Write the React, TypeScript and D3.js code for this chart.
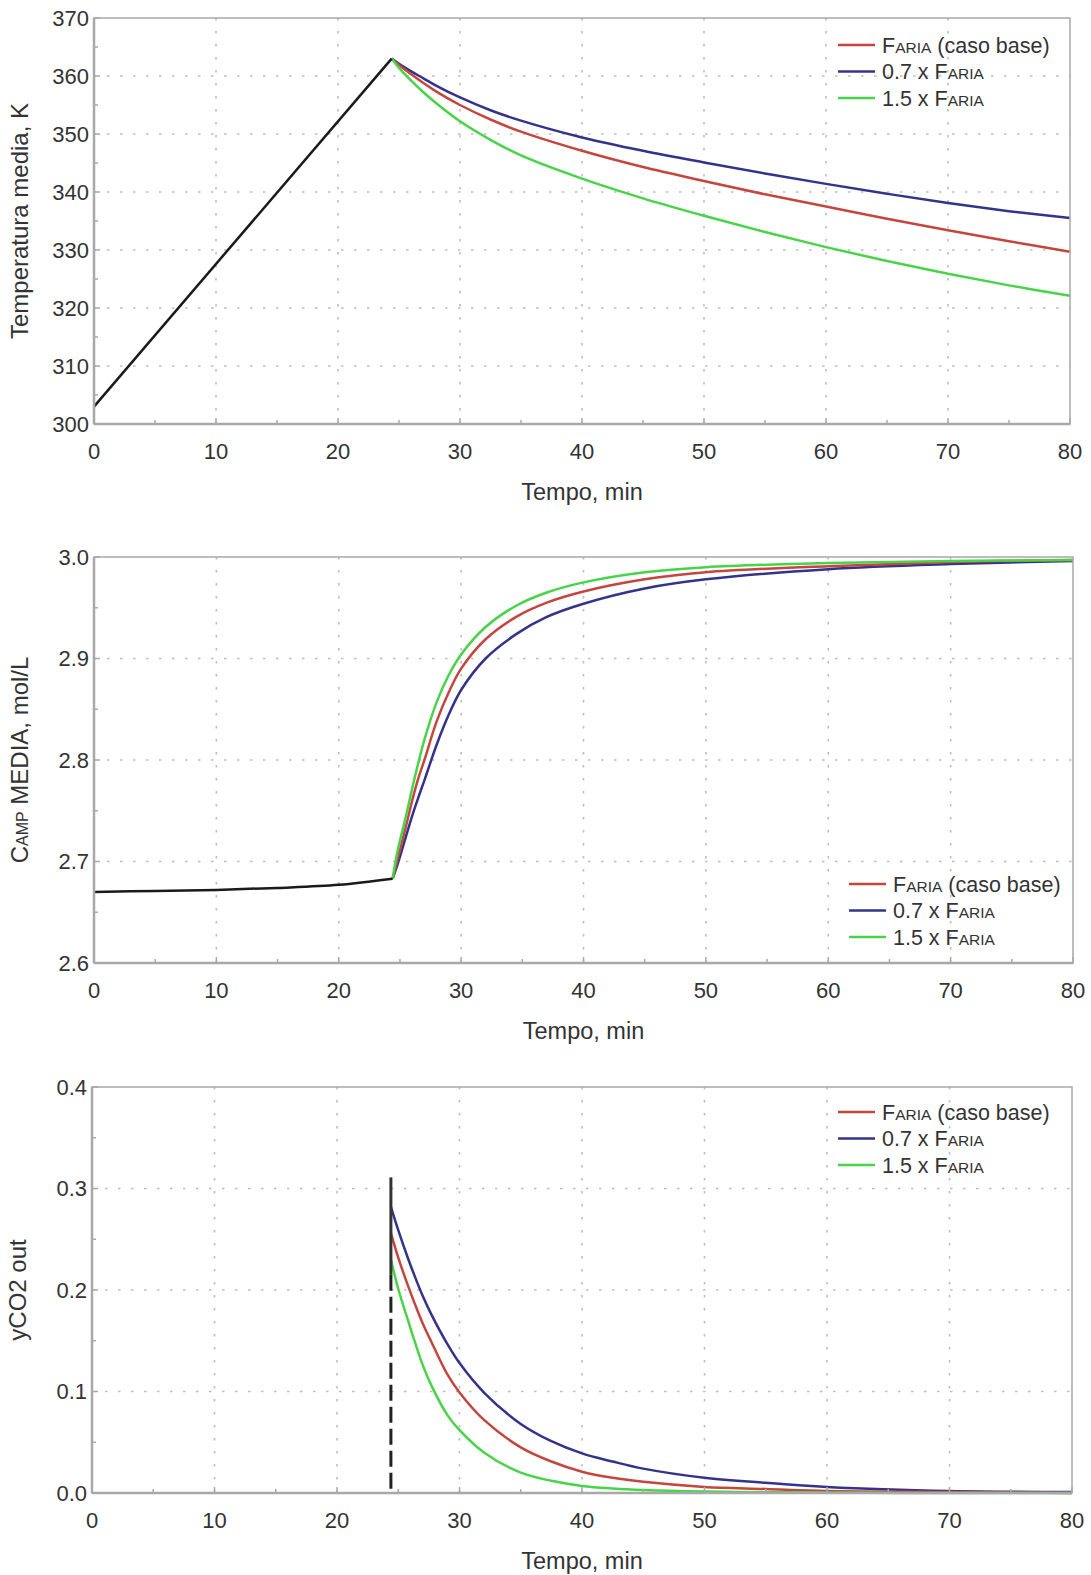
import React from "react";
import * as d3 from "d3";

// ---------- Panel 1: Temperatura media ----------
const heatX = [0, 24.4];
const heatT = [303, 363];
const coolX = [24.4, 25, 26, 27, 28, 30, 32.5, 35, 40, 45, 50, 55, 60, 65, 70, 75, 80];
const tempBase = [363, 361.9, 360.3, 358.8, 357.4, 355.0, 352.5, 350.4, 347.1, 344.3, 341.9, 339.6, 337.5, 335.4, 333.4, 331.5, 329.7];
const temp07 = [363, 362.1, 360.8, 359.6, 358.4, 356.3, 354.1, 352.3, 349.4, 347.1, 345.1, 343.2, 341.4, 339.7, 338.1, 336.7, 335.5];
const temp15 = [363, 361.4, 359.2, 357.2, 355.4, 352.2, 349.0, 346.3, 342.3, 338.9, 335.9, 333.1, 330.5, 328.1, 325.9, 323.9, 322.1];

// ---------- Panel 2: C_AMP media ----------
const preX = [0, 5, 10, 15, 20, 24.4];
const preC = [2.670, 2.671, 2.672, 2.674, 2.677, 2.683];
const riseX = [24.4, 24.8, 25.5, 26, 26.5, 27, 28, 29, 30, 32, 34.5, 37, 40, 45, 50, 60, 70, 80];
const campBase = [2.683, 2.702, 2.735, 2.76, 2.782, 2.80, 2.838, 2.867, 2.89, 2.919, 2.941, 2.955, 2.966, 2.978, 2.985, 2.991, 2.995, 2.997];
const camp07 = [2.683, 2.697, 2.725, 2.745, 2.763, 2.78, 2.815, 2.845, 2.869, 2.90, 2.924, 2.941, 2.954, 2.969, 2.978, 2.988, 2.993, 2.996];
const camp15 = [2.683, 2.71, 2.745, 2.772, 2.797, 2.82, 2.857, 2.884, 2.904, 2.931, 2.952, 2.965, 2.975, 2.985, 2.990, 2.994, 2.996, 2.997];

// ---------- Panel 3: yCO2 out ----------
const decayX = [24.4, 25, 25.8, 26.3, 27, 27.7, 29, 30, 32, 35, 37.5, 40, 42.5, 45, 50, 55, 60, 70, 80];
const yco2Base = [0.256, 0.232, 0.204, 0.188, 0.167, 0.149, 0.117, 0.099, 0.072, 0.045, 0.031, 0.021, 0.015, 0.011, 0.006, 0.004, 0.002, 0.001, 0];
const yco207 = [0.282, 0.259, 0.231, 0.215, 0.194, 0.176, 0.147, 0.128, 0.099, 0.068, 0.051, 0.039, 0.031, 0.024, 0.015, 0.010, 0.006, 0.002, 0.001];
const yco215 = [0.23, 0.201, 0.17, 0.151, 0.126, 0.106, 0.077, 0.062, 0.04, 0.02, 0.012, 0.007, 0.0045, 0.003, 0.0015, 0.0008, 0.0004, 0, 0];
const switchX = [24.4, 24.4];
const switchSolid = [0.311, 0.215];
const switchDashed = [0.215, 0];

// ---------- ticks ----------
const xTicks = [0, 10, 20, 30, 40, 50, 60, 70, 80];
const tempTicks = [300, 310, 320, 330, 340, 350, 360, 370];
const campTicks = [2.6, 2.7, 2.8, 2.9, 3.0];
const yco2Ticks = [0, 0.1, 0.2, 0.3, 0.4];

const RED = "#c4463f";
const BLUE = "#34338c";
const GREEN = "#48d448";
const AXIS = "#a8a8a8";
const GRID = "#bdbdbd";
const TEXT = "#333333";
const FONT = "'Liberation Sans', Arial, sans-serif";

type Series = { x: number[]; y: number[]; color: string; dash?: string; width?: number };

function Legend({ x, y }: { x: number; y: number }) {
  const rows = [
    { color: RED, pre: "", post: " (caso base)" },
    { color: BLUE, pre: "0.7 x ", post: "" },
    { color: GREEN, pre: "1.5 x ", post: "" },
  ];
  return (
    <g>
      {rows.map((r, i) => (
        <g key={i} transform={`translate(${x},${y + i * 26.5})`}>
          <line x1={0} x2={37} y1={0} y2={0} stroke={r.color} strokeWidth={2.5} />
          <text x={44} y={0} dy="0.36em" fontSize={21.5} fill={TEXT} fontFamily={FONT}>
            {r.pre}
            <tspan>F</tspan>
            <tspan fontSize={15.5}>ARIA</tspan>
            {r.post}
          </text>
        </g>
      ))}
    </g>
  );
}

function Panel({
  left, right, top, bottom, yDomain, yTicks, yFmt, series, yLabel, legendPos,
}: {
  left: number; right: number; top: number; bottom: number;
  yDomain: [number, number]; yTicks: number[]; yFmt: (v: number) => string;
  series: Series[]; yLabel: React.ReactNode; legendPos: [number, number];
}) {
  const x = d3.scaleLinear().domain([0, 80]).range([left, right]);
  const y = d3.scaleLinear().domain(yDomain).range([bottom, top]);
  const step = yTicks[1] - yTicks[0];
  const minorY = yTicks.slice(0, -1).map((t) => t + step / 2);
  const minorX = xTicks.slice(0, -1).map((t) => t + 5);
  const line = d3
    .line<[number, number]>()
    .x((d) => x(d[0]))
    .y((d) => y(d[1]))
    .curve(d3.curveCatmullRom.alpha(0.5));
  const straight = d3
    .line<[number, number]>()
    .x((d) => x(d[0]))
    .y((d) => y(d[1]));
  return (
    <g>
      {/* grid */}
      {xTicks.slice(1, -1).map((t) => (
        <line key={"gx" + t} x1={x(t)} x2={x(t)} y1={top} y2={bottom} stroke={GRID} strokeWidth={1.6} strokeDasharray="2.5 10.5" />
      ))}
      {yTicks.slice(1, -1).map((t) => (
        <line key={"gy" + t} x1={left} x2={right} y1={y(t)} y2={y(t)} stroke={GRID} strokeWidth={1.6} strokeDasharray="2.5 10.5" />
      ))}
      {/* series */}
      {series.map((s, i) => {
        const pts = s.x.map((v, j) => [v, s.y[j]] as [number, number]);
        const gen = s.x[0] === s.x[s.x.length - 1] || s.x.length < 3 ? straight : line;
        return (
          <path key={i} d={gen(pts) || ""} fill="none" stroke={s.color} strokeWidth={s.width ?? 2.5} strokeDasharray={s.dash} />
        );
      })}
      {/* frame */}
      <rect x={left} y={top} width={right - left} height={bottom - top} fill="none" stroke={AXIS} strokeWidth={1.5} />
      <line x1={left} x2={right} y1={bottom} y2={bottom} stroke={AXIS} strokeWidth={2.5} />
      <line x1={left} x2={left} y1={top} y2={bottom} stroke={AXIS} strokeWidth={2.5} />
      {/* ticks */}
      {xTicks.map((t) => (
        <line key={"tx" + t} x1={x(t)} x2={x(t)} y1={bottom} y2={bottom - 6} stroke={AXIS} strokeWidth={1.5} />
      ))}
      {minorX.map((t) => (
        <line key={"mx" + t} x1={x(t)} x2={x(t)} y1={bottom} y2={bottom - 4} stroke={AXIS} strokeWidth={1.5} />
      ))}
      {yTicks.map((t) => (
        <line key={"ty" + t} x1={left} x2={left + 6} y1={y(t)} y2={y(t)} stroke={AXIS} strokeWidth={1.5} />
      ))}
      {minorY.map((t) => (
        <line key={"my" + t} x1={left} x2={left + 4} y1={y(t)} y2={y(t)} stroke={AXIS} strokeWidth={1.5} />
      ))}
      {/* tick labels */}
      {xTicks.map((t) => (
        <text key={"lx" + t} x={x(t)} y={bottom + 35} textAnchor="middle" fontSize={22} fill={TEXT} fontFamily={FONT}>
          {t}
        </text>
      ))}
      {yTicks.map((t) => (
        <text key={"ly" + t} x={left - 5} y={y(t)} dy="0.36em" textAnchor="end" fontSize={22} fill={TEXT} fontFamily={FONT}>
          {yFmt(t)}
        </text>
      ))}
      <text x={(left + right) / 2} y={bottom + 76} textAnchor="middle" fontSize={23.5} fill={TEXT} fontFamily={FONT}>
        Tempo, min
      </text>
      <text
        transform={`translate(${left - 66},${(top + bottom) / 2}) rotate(-90)`}
        textAnchor="middle"
        fontSize={24}
        fill={TEXT}
        fontFamily={FONT}
      >
        {yLabel}
      </text>
      <Legend x={legendPos[0]} y={legendPos[1]} />
    </g>
  );
}

export default function App() {
  return (
    <svg
      width={1091}
      height={1575}
      style={{ position: "absolute", left: 0, top: 0, background: "#fff" }}
    >
      <rect x={0} y={0} width={1091} height={1575} fill="#fff" />
      <Panel
        left={94}
        right={1070}
        top={18}
        bottom={424}
        yDomain={[300, 370]}
        yTicks={tempTicks}
        yFmt={(v) => String(v)}
        yLabel="Temperatura media, K"
        legendPos={[838, 45]}
        series={[
          { x: coolX, y: temp07, color: BLUE },
          { x: coolX, y: tempBase, color: RED },
          { x: coolX, y: temp15, color: GREEN },
          { x: heatX, y: heatT, color: "#1a1a1a" },
        ]}
      />
      <Panel
        left={94}
        right={1073}
        top={557}
        bottom={963}
        yDomain={[2.6, 3.0]}
        yTicks={campTicks}
        yFmt={(v) => v.toFixed(1)}
        yLabel={
          <>
            <tspan>C</tspan>
            <tspan fontSize={16}>AMP</tspan>
            <tspan> MEDIA, mol/L</tspan>
          </>
        }
        legendPos={[849, 884]}
        series={[
          { x: riseX, y: camp07, color: BLUE },
          { x: riseX, y: campBase, color: RED },
          { x: riseX, y: camp15, color: GREEN },
          { x: preX, y: preC, color: "#1a1a1a" },
        ]}
      />
      <Panel
        left={92}
        right={1072}
        top={1087}
        bottom={1493}
        yDomain={[0, 0.4]}
        yTicks={yco2Ticks}
        yFmt={(v) => v.toFixed(1)}
        yLabel="yCO2 out"
        legendPos={[838, 1112]}
        series={[
          { x: decayX, y: yco207, color: BLUE },
          { x: decayX, y: yco2Base, color: RED },
          { x: decayX, y: yco215, color: GREEN },
          { x: switchX, y: switchSolid, color: "#333333", width: 3 },
          { x: switchX, y: switchDashed, color: "#222222", width: 3, dash: "16 6" },
        ]}
      />
    </svg>
  );
}
